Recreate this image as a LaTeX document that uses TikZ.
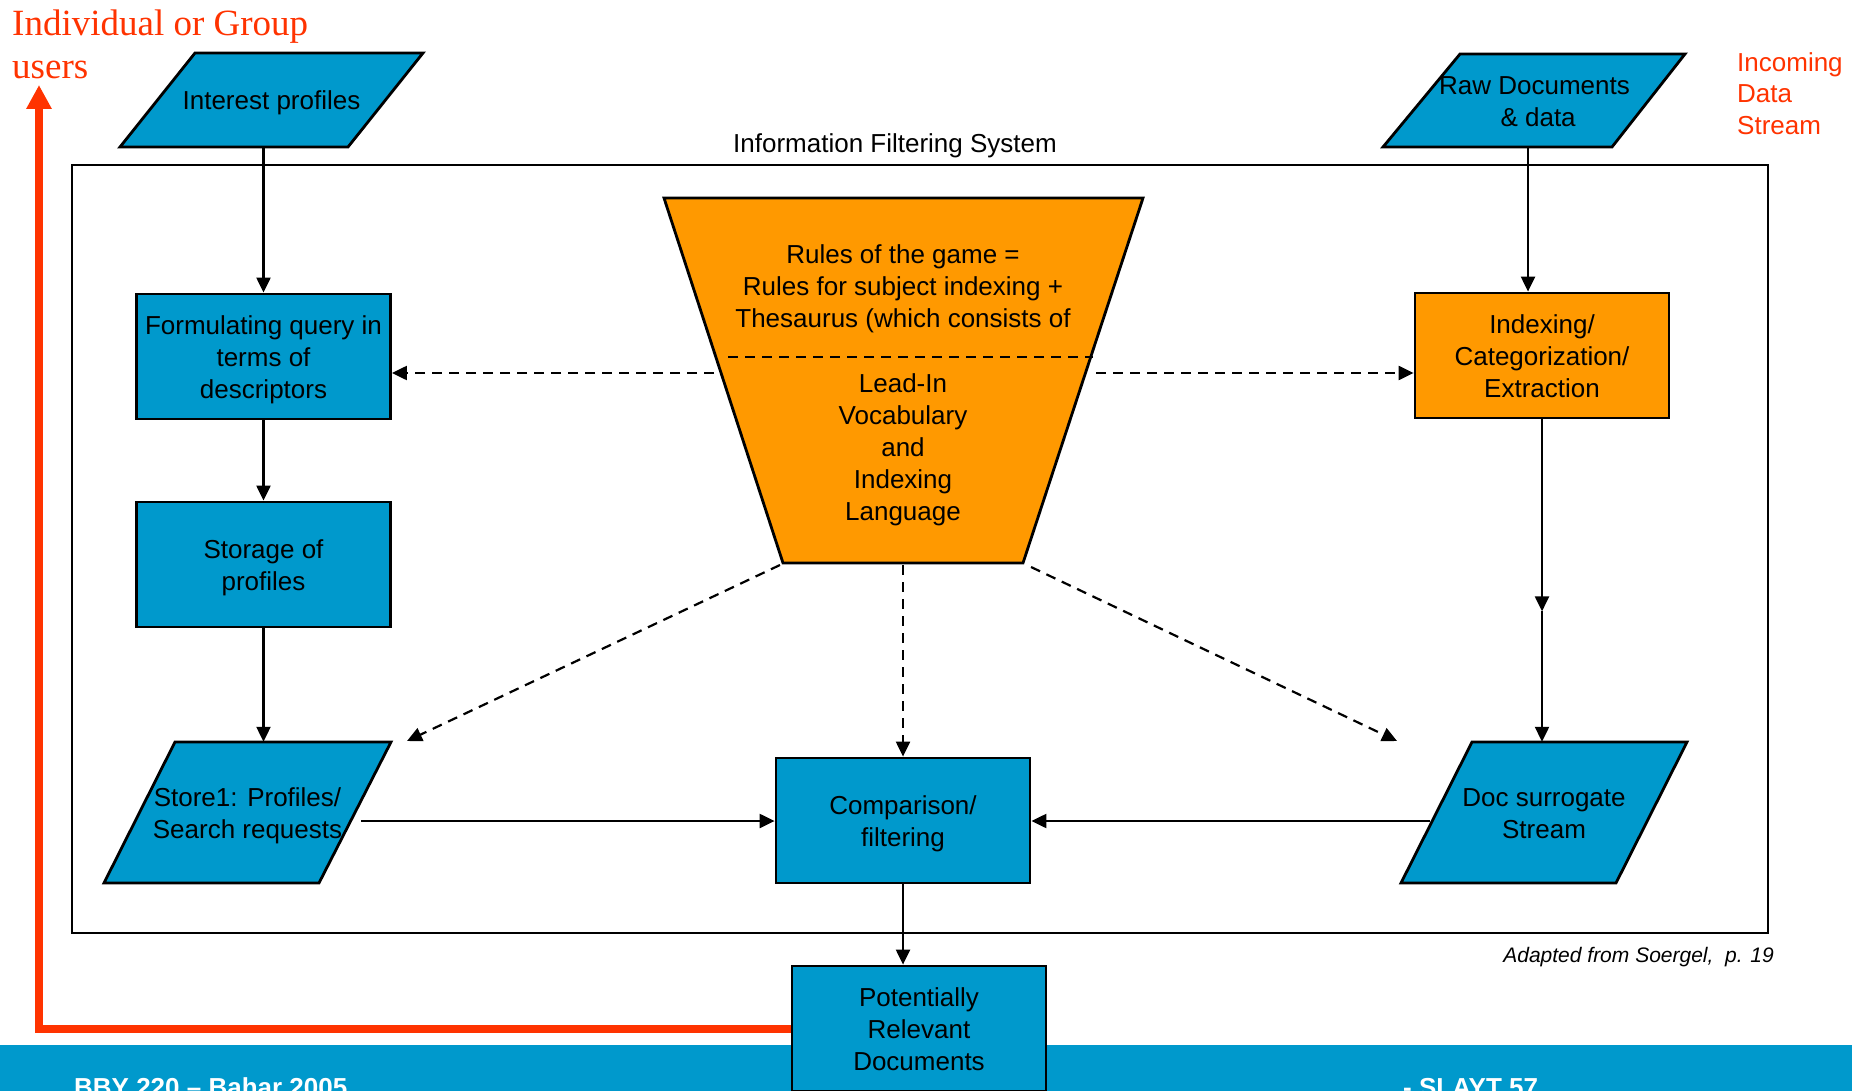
\documentclass[tikz,border=0pt]{standalone}
\usepackage{fontspec}
\setmainfont{Liberation Sans}
\newfontfamily\serifface{Liberation Serif}
\usetikzlibrary{arrows.meta,calc}

\definecolor{boxblue}{RGB}{0,153,204}
\definecolor{boxorange}{RGB}{255,153,0}
\definecolor{alertred}{RGB}{255,51,0}

% strut opening the first line of each block, so every block has the same line frame
\newcommand\txtstrut{\rule{0pt}{27pt}}

\tikzset{
  txt/.style={font=\fontsize{26}{32}\selectfont, align=center, inner sep=0pt, text=black,
    execute at end node={\rule[-7pt]{0pt}{7pt}}},
  outline/.style={draw=black, line width=2.8pt, line join=miter},
  bluebox/.style={outline, fill=boxblue, rectangle, minimum width=254pt, minimum height=125pt, txt},
  orangebox/.style={outline, fill=boxorange, rectangle, minimum width=254pt, minimum height=125pt, txt},
  pgram/.style={outline, fill=boxblue},
  funnel/.style={outline, fill=boxorange},
  holder/.style={txt, rectangle},
  flow/.style={draw=black, line width=2.2pt, -{Triangle[length=15pt,width=14pt]}},
  dashflow/.style={flow, dash pattern=on 10pt off 7pt},
  dashrule/.style={draw=black, line width=2.2pt, dash pattern=on 10pt off 7pt},
  userarrow/.style={draw=alertred, line width=8pt, line join=miter, -{Triangle[length=24pt,width=24pt]}},
  redtext/.style={text=alertred, inner sep=0pt, align=left},
  footer/.style={text=white, font=\bfseries\fontsize{26}{30}\selectfont, inner sep=0pt},
}

\begin{document}
\begin{tikzpicture}[x=1pt,y=-1pt]
\useasboundingbox (0,0) rectangle (1852,1091);
\clip (0,0) rectangle (1852,1091);
\fill[white] (0,0) rectangle (1852,1091);

% footer band
\fill[boxblue] (0,1045) rectangle (1852,1091);
\node[footer, anchor=base west] (course) at (74,1096) {BBY 220 – Bahar 2005};
\node[footer, anchor=base west] (slide) at (1403,1096) {- SLAYT 57};

% system frame and its title
\node[draw=black, line width=2.6pt, rectangle, minimum width=1696pt, minimum height=768pt, inner sep=0pt] (ifs) at (920,549) {};
\node[txt] (ifstitle) at (895,143) {\txtstrut Information Filtering System};

% outside labels
\node[redtext, anchor=north west, font=\serifface\fontsize{37}{43}\selectfont] (users) at (12,10) {Individual or Group\\users};
\node[redtext, anchor=north west, font=\fontsize{26}{31.5}\selectfont] (incoming) at (1737,52) {Incoming\\Data\\Stream};
\node[anchor=east, inner sep=0pt, font=\itshape\fontsize{21}{25}\selectfont] (source) at (1774,957) {Adapted from Soergel,\ \ p. 19};

% parallelograms (data stores / streams)
\path[pgram] (195,53) -- (423,53) -- (348,147) -- (120,147) -- cycle;
\node[holder, minimum width=303pt, minimum height=94pt] (ip) at (271.5,100) {\txtstrut Interest profiles};

\path[pgram] (1460,54) -- (1685,54) -- (1612,147) -- (1383,147) -- cycle;
\node[holder, minimum width=302pt, minimum height=93pt] (raw) at (1534.5,100.5) {\txtstrut Raw Documents\\\ \& data};

\path[pgram] (175,742) -- (391,742) -- (319,883) -- (104,883) -- cycle;
\node[holder, minimum width=287pt, minimum height=141pt] (st) at (247.5,812.5) {\txtstrut Store1: Profiles/\\Search requests};

\path[pgram] (1472,742) -- (1687,742) -- (1616,883) -- (1401,883) -- cycle;
\node[holder, minimum width=286pt, minimum height=141pt] (doc) at (1544,812.5) {\txtstrut Doc surrogate\\Stream};

% process boxes
\node[bluebox] (fq) at (263.5,356.5) {\txtstrut Formulating query in\\terms of\\descriptors};
\node[bluebox] (sp) at (263.5,564.5) {\txtstrut Storage of\\profiles};
\node[orangebox] (ix) at (1542,355.5) {\txtstrut Indexing/\\Categorization/\\Extraction};
\node[bluebox] (cmp) at (903,820.5) {\txtstrut Comparison/\\filtering};

% rules funnel
\path[funnel] (664,198) -- (1143,198) -- (1023,563) -- (783,563) -- cycle;
\draw[dashrule] (728,357) -- (1093,357);
\node[txt] (rules) at (903,285) {\txtstrut Rules of the game =\\Rules for subject indexing +\\Thesaurus (which consists of};
\node[txt] (leadin) at (903,446) {\txtstrut Lead-In\\Vocabulary\\and\\Indexing\\Language};

% connector end points on the funnel
\coordinate (fl) at (714,373);
\coordinate (fr) at (1096,373);
\coordinate (fbl) at (780,565);
\coordinate (fbm) at (903,565);
\coordinate (fbr) at (1031,567);
\coordinate (dl) at (407,741);
\coordinate (dr) at (1397,741);

% profile side
\draw[flow] (fq.north |- ip.south) -- (fq.north);
\draw[flow] (fq.south) -- (sp.north);
\draw[flow] (sp.south) -- (sp.south |- st.north);
\coordinate (stout) at (361,821);
\draw[flow] (stout) -- (stout -| cmp.west);

% document side
\coordinate (rawout) at (1528,147);
\draw[flow] (rawout) -- (rawout |- ix.north);
\coordinate (ixmid) at ([yshift=-192pt]ix.south);
\draw[flow] (ix.south) -- (ixmid);
\draw[flow] (ixmid) -- (ixmid |- doc.north);
\coordinate (docout) at (1430,821);
\draw[flow] (docout) -- (docout -| cmp.east);

% rules applied everywhere
\draw[dashflow] (fl) -- (fl -| fq.east);
\draw[dashflow] (fr) -- (fr -| ix.west);
\draw[dashflow] (fbl) -- (dl);
\draw[dashflow] (fbr) -- (dr);
\draw[dashflow] (fbm) -- (cmp.north);

% results, fed back to the users
\coordinate (usertip) at (39,85);
\coordinate (prleft) at (792,1029);
\draw[userarrow] (prleft) -| (usertip);
\node[bluebox] (pr) at (919,1028.5) {\txtstrut Potentially\\Relevant\\Documents};
\draw[flow] (cmp.south) -- (pr.north -| cmp.south);
\end{tikzpicture}
\end{document}
